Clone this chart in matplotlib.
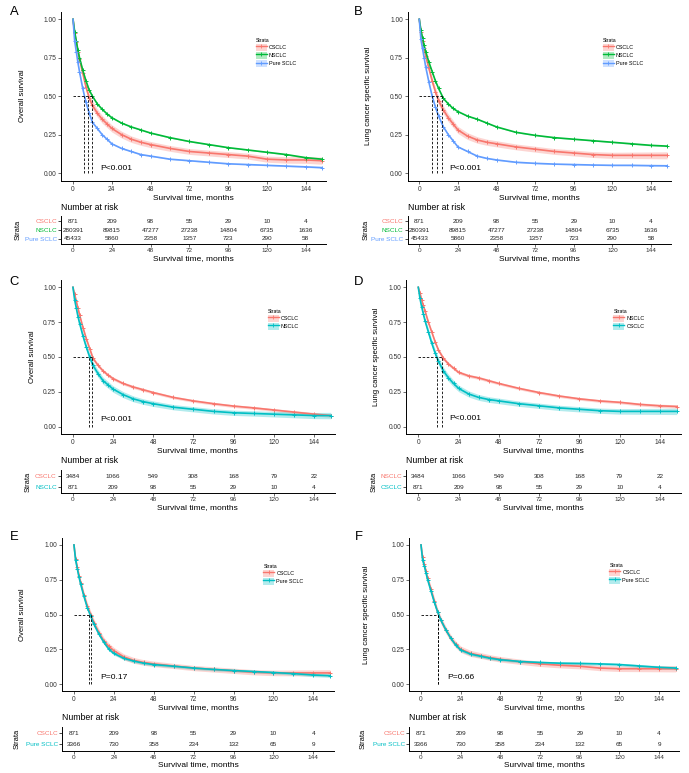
import matplotlib.pyplot as plt
from matplotlib.patches import Patch
from matplotlib.lines import Line2D

plt.rcParams['font.family'] = ['Liberation Sans', 'DejaVu Sans']

# ---------------------------------
# data
# ---------------------------------
months = [0, 1, 2, 3, 4, 6, 8, 10, 12, 15, 18, 21, 24, 30, 36, 42, 48,
          60, 72, 84, 96, 108, 120, 132, 144, 154]
risk_times = [0, 24, 48, 72, 96, 120, 144]

# panel A: overall survival, whole cohort
a_labels = ['CSCLC', 'NSCLC', 'Pure SCLC']
a_cs = [1.0, 0.91, 0.85, 0.79, 0.74, 0.65, 0.56, 0.49, 0.44, 0.39, 0.35, 0.32, 0.29,
        0.25, 0.22, 0.20, 0.185, 0.16, 0.14, 0.13, 0.12, 0.11, 0.09, 0.085, 0.085, 0.08]
a_ns = [1.0, 0.92, 0.86, 0.80, 0.75, 0.67, 0.60, 0.54, 0.50, 0.45, 0.415, 0.385, 0.36,
        0.325, 0.30, 0.28, 0.26, 0.23, 0.205, 0.185, 0.165, 0.15, 0.135, 0.12, 0.10, 0.09]
a_ps = [1.0, 0.86, 0.79, 0.72, 0.66, 0.55, 0.46, 0.39, 0.33, 0.29, 0.25, 0.22, 0.19,
        0.16, 0.14, 0.12, 0.11, 0.09, 0.08, 0.07, 0.06, 0.055, 0.05, 0.045, 0.04, 0.035]
a_median = [9.5, 11.7, 7.0]

# panel B: lung cancer specific survival, whole cohort
b_cs = [1.0, 0.92, 0.86, 0.81, 0.76, 0.68, 0.60, 0.53, 0.47, 0.41, 0.36, 0.32, 0.28,
        0.24, 0.215, 0.20, 0.19, 0.17, 0.155, 0.14, 0.13, 0.12, 0.115, 0.115, 0.115, 0.115]
b_ns = [1.0, 0.93, 0.88, 0.83, 0.79, 0.72, 0.66, 0.60, 0.55, 0.485, 0.45, 0.42, 0.40,
        0.37, 0.35, 0.325, 0.30, 0.265, 0.245, 0.23, 0.22, 0.21, 0.20, 0.19, 0.18, 0.175]
b_ps = [1.0, 0.87, 0.81, 0.75, 0.69, 0.59, 0.50, 0.43, 0.37, 0.30, 0.25, 0.21, 0.17,
        0.14, 0.11, 0.095, 0.085, 0.07, 0.063, 0.058, 0.055, 0.052, 0.05, 0.05, 0.048, 0.047]
b_median = [11.0, 13.9, 7.9]

whole_risk = [[871, 209, 98, 55, 29, 10, 4],
              [280391, 89815, 47277, 27238, 14804, 6735, 1636],
              [45433, 5860, 2358, 1357, 723, 290, 58]]

# panel C: overall survival, matched
c_labels = ['CSCLC', 'NSCLC']
c_red = [1.0, 0.95, 0.90, 0.85, 0.80, 0.71, 0.63, 0.56, 0.49, 0.44, 0.40, 0.37, 0.345,
         0.31, 0.285, 0.265, 0.245, 0.21, 0.185, 0.165, 0.148, 0.135, 0.12, 0.105, 0.09, 0.08]
c_teal = [1.0, 0.91, 0.85, 0.79, 0.74, 0.65, 0.57, 0.50, 0.44, 0.38, 0.33, 0.30, 0.27,
          0.23, 0.20, 0.18, 0.165, 0.14, 0.125, 0.11, 0.10, 0.095, 0.09, 0.085, 0.08, 0.08]
c_median = [11.5, 9.8]

# panel D: lung cancer specific survival, matched
d_labels = ['NSCLC', 'CSCLC']
d_red = [1.0, 0.96, 0.91, 0.87, 0.83, 0.75, 0.68, 0.61, 0.55, 0.49, 0.45, 0.42, 0.39,
         0.365, 0.35, 0.33, 0.31, 0.275, 0.245, 0.22, 0.20, 0.185, 0.175, 0.16, 0.15, 0.145]
d_teal = [1.0, 0.92, 0.86, 0.81, 0.76, 0.68, 0.60, 0.53, 0.47, 0.40, 0.35, 0.31, 0.275,
          0.235, 0.21, 0.195, 0.185, 0.165, 0.15, 0.135, 0.125, 0.115, 0.11, 0.11, 0.11, 0.11]
d_median = [14.0, 11.0]

nsclc_matched_risk = [[3484, 1066, 549, 308, 168, 79, 22],
                      [871, 209, 98, 55, 29, 10, 4]]

# panel E: overall survival, CSCLC vs pure SCLC
e_labels = ['CSCLC', 'Pure SCLC']
e_red = [1.0, 0.90, 0.84, 0.78, 0.73, 0.64, 0.56, 0.50, 0.44, 0.37, 0.31, 0.27, 0.24,
         0.195, 0.17, 0.155, 0.145, 0.13, 0.115, 0.105, 0.095, 0.085, 0.08, 0.08, 0.08, 0.08]
e_teal = [1.0, 0.89, 0.83, 0.77, 0.72, 0.63, 0.55, 0.49, 0.43, 0.36, 0.30, 0.25, 0.22,
          0.185, 0.165, 0.15, 0.14, 0.128, 0.115, 0.105, 0.097, 0.09, 0.083, 0.075, 0.065, 0.06]
e_median = [10.0, 9.2]

# panel F: lung cancer specific survival, CSCLC vs pure SCLC
f_red = [1.0, 0.91, 0.86, 0.81, 0.76, 0.68, 0.60, 0.52, 0.46, 0.39, 0.33, 0.285, 0.25,
         0.22, 0.205, 0.19, 0.178, 0.16, 0.145, 0.135, 0.128, 0.115, 0.11, 0.11, 0.11, 0.11]
f_teal = [1.0, 0.89, 0.85, 0.80, 0.75, 0.67, 0.59, 0.52, 0.46, 0.39, 0.33, 0.28, 0.245,
          0.215, 0.20, 0.185, 0.175, 0.162, 0.155, 0.15, 0.148, 0.145, 0.14, 0.13, 0.12, 0.115]
f_median = [10.5, 10.3]

sclc_matched_risk = [[871, 209, 98, 55, 29, 10, 4],
                     [3366, 730, 358, 234, 132, 65, 9]]

# half widths of the confidence bands
ci_small = [0, 0.015, 0.018, 0.021, 0.023, 0.025, 0.026, 0.027, 0.027, 0.026, 0.025, 0.024, 0.023,
            0.022, 0.021, 0.02, 0.02, 0.019, 0.019, 0.019, 0.019, 0.019, 0.02, 0.021, 0.022, 0.023]
ci_mid = [0, 0.006, 0.008, 0.01, 0.011, 0.012, 0.013, 0.013, 0.013, 0.013, 0.012, 0.012, 0.012,
          0.011, 0.011, 0.011, 0.01, 0.01, 0.01, 0.01, 0.01, 0.01, 0.01, 0.011, 0.012, 0.012]
ci_large = [0, 0.003, 0.003, 0.003, 0.003, 0.003, 0.003, 0.003, 0.003, 0.003, 0.003, 0.003, 0.003,
            0.003, 0.003, 0.003, 0.003, 0.003, 0.003, 0.003, 0.003, 0.003, 0.003, 0.004, 0.004, 0.004]

red, green, blue, teal = '#F8766D', '#00BA38', '#619CFF', '#00BFC4'

W, H = 689, 773
fig = plt.figure(figsize=(W / 100, H / 100), dpi=100)


def box(l, t, r, b):
    return [l / W, 1 - b / H, (r - l) / W, (b - t) / H]


def km_panel(letter, lpos, xs, main_tb, tab_tb, ylab, ylab_x, strata_x,
             labels, curves, cis, colors, medians, risk, ptxt, ppos, legpos):
    l, r = xs
    ax = fig.add_axes(box(l, main_tb[0], r, main_tb[1]))
    for s, ci, c in zip(curves, cis, colors):
        lo = [v - w for v, w in zip(s, ci)]
        hi = [v + w for v, w in zip(s, ci)]
        ax.fill_between(months, lo, hi, color=c, alpha=0.3, lw=0)
        ax.plot(months, s, color=c, lw=1.2)
        ax.plot(months[1:], s[1:], ls='none', color=c, marker='+', ms=3.5, mew=0.7)
    ax.plot([0, max(medians)], [0.5, 0.5], color='k', ls=(0, (3, 2)), lw=0.6)
    for m in medians:
        ax.plot([m, m], [0, 0.5], color='k', ls=(0, (3, 2)), lw=0.6)
    ax.text(ppos[0], ppos[1], ptxt, fontsize=6.1, va='center', ha='left')
    ax.set_xlim(-7.2, 156.3)
    ax.set_ylim(-0.05, 1.05)
    ax.set_xticks(risk_times)
    ax.set_yticks([0, 0.25, 0.5, 0.75, 1.0])
    ax.set_yticklabels(['0.00', '0.25', '0.50', '0.75', '1.00'])
    ax.set_xlabel('Survival time, months', fontsize=6, labelpad=1)
    for sp in ['top', 'right']:
        ax.spines[sp].set_visible(False)
    for sp in ['left', 'bottom']:
        ax.spines[sp].set_linewidth(0.7)
    ax.tick_params(labelsize=4.8, length=2, width=0.5, pad=1.5, colors='#333333')
    handles = [(Patch(facecolor=c, alpha=0.3, lw=0),
                Line2D([], [], color=c, lw=1, marker='+', ms=3, mew=0.6)) for c in colors]
    ax.legend(handles, labels, title='Strata', loc='upper left',
              bbox_to_anchor=(legpos[0] / W, 1 - legpos[1] / H), bbox_transform=fig.transFigure,
              frameon=False, fontsize=3.9, title_fontsize=3.7, borderpad=0,
              handlelength=2.0, handleheight=1.6, labelspacing=0.2, handletextpad=0.4,
              alignment='left')
    fig.text(ylab_x / W, 1 - (main_tb[0] + main_tb[1]) / 2 / H, ylab, rotation=90,
             fontsize=5.5, ha='center', va='center')
    fig.text(lpos[0] / W, 1 - lpos[1] / H, letter, fontsize=9.4, ha='center', va='center')

    # risk table
    n = len(labels)
    tb = fig.add_axes(box(l, tab_tb[0], r, tab_tb[1]))
    tb.set_xlim(-7.2, 156.3)
    tb.set_ylim(n + 0.56, 0.44)
    for i, row in enumerate(risk):
        for t, v in zip(risk_times, row):
            tb.text(t, i + 1, str(v), fontsize=4.6, ha='center', va='center', color='#222222')
    tb.set_xticks(risk_times)
    tb.set_yticks(range(1, n + 1))
    tb.set_yticklabels(labels)
    for lab, c in zip(tb.get_yticklabels(), colors):
        lab.set_color(c)
    tb.set_xlabel('Survival time, months', fontsize=6, labelpad=1)
    for sp in ['top', 'right']:
        tb.spines[sp].set_visible(False)
    for sp in ['left', 'bottom']:
        tb.spines[sp].set_linewidth(0.7)
    tb.tick_params(labelsize=4.6, length=2, width=0.5, pad=1)
    tb.tick_params(axis='x', colors='#333333')
    fig.text(l / W, 1 - (tab_tb[0] - 9) / H, 'Number at risk', fontsize=6.3, ha='left', va='center')
    fig.text(strata_x / W, 1 - (tab_tb[0] + tab_tb[1]) / 2 / H, 'Strata', rotation=90,
             fontsize=5.4, ha='center', va='center')


km_panel('A', (14.7, 12), (61.4, 325.6), (11.6, 180.7), (216, 244),
         'Overall survival', 22.5, 18, a_labels, [a_cs, a_ns, a_ps],
         [ci_small, ci_large, ci_large], [red, green, blue], a_median, whole_risk,
         'P<0.001', (16.7, 0.03), (253, 35))
km_panel('B', (358.3, 12), (407.7, 670.8), (11.6, 180.7), (216, 244),
         'Lung cancer specific survival', 368, 365.7, a_labels, [b_cs, b_ns, b_ps],
         [ci_small, ci_large, ci_large], [red, green, blue], b_median, whole_risk,
         'P<0.001', (18.5, 0.03), (600, 35))
km_panel('C', (14, 282), (60.9, 334.6), (280.3, 433.7), (470, 493.3),
         'Overall survival', 33, 28, c_labels, [c_red, c_teal],
         [ci_mid, ci_small], [red, teal], c_median, nsclc_matched_risk,
         'P<0.001', (16.1, 0.053), (265, 306))
km_panel('D', (359, 282), (406.2, 680.6), (280.3, 433.7), (470, 493.3),
         'Lung cancer specific survival', 377, 374, d_labels, [d_red, d_teal],
         [ci_mid, ci_small], [red, teal], d_median, nsclc_matched_risk,
         'P<0.001', (18.3, 0.06), (610.7, 306))
km_panel('E', (14, 537), (62.0, 333.8), (538, 691), (727, 750.7),
         'Overall survival', 22.5, 17, e_labels, [e_red, e_teal],
         [ci_small, ci_mid], [red, teal], e_median, sclc_matched_risk,
         'P=0.17', (15.7, 0.045), (260.7, 561))
km_panel('F', (359, 537), (409.1, 679.4), (538, 691), (727, 750.7),
         'Lung cancer specific survival', 367, 363, e_labels, [f_red, f_teal],
         [ci_small, ci_mid], [red, teal], f_median, sclc_matched_risk,
         'P=0.66', (15.7, 0.048), (606.7, 560))

fig.savefig('out.png', dpi=100)
